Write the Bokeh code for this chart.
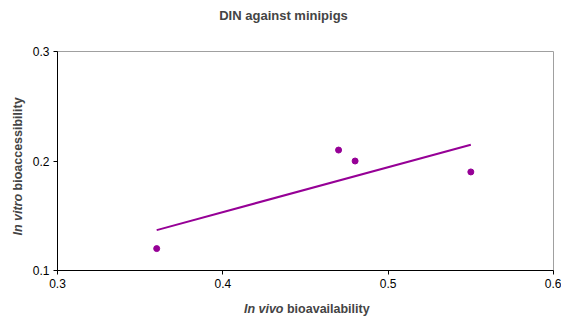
import numpy as np
from bokeh.plotting import figure
from bokeh.models import Label, FixedTicker, Range1d
from bokeh.embed import file_html
from bokeh.resources import INLINE

# data
in_vivo = [0.36, 0.47, 0.48, 0.55]
in_vitro = [0.12, 0.21, 0.20, 0.19]
x_ticks = [0.3, 0.4, 0.5, 0.6]
y_ticks = [0.1, 0.2, 0.3]
title_text = "DIN against minipigs"

FONT = "Liberation Sans"
PURPLE = "#960096"

p = figure(width=561, height=318, output_backend="svg", toolbar_location=None,
           x_range=Range1d(0.3, 0.6), y_range=Range1d(0.1, 0.3),
           min_border_left=57, min_border_right=8, min_border_top=51, min_border_bottom=48)
p.background_fill_color = "white"
p.border_fill_color = "white"
p.outline_line_color = "#a0a0a0"
p.xgrid.visible = False
p.ygrid.visible = False

for ax, ticks in ((p.xaxis, x_ticks), (p.yaxis, y_ticks)):
    ax.ticker = FixedTicker(ticks=ticks)
    ax.minor_tick_line_color = None
    ax.major_tick_in = 0
    ax.major_tick_out = 4
    ax.axis_line_color = "black"
    ax.major_tick_line_color = "black"
    ax.major_label_text_font = FONT
    ax.major_label_text_font_size = "12px"
    ax.major_label_text_color = "black"
p.xaxis.major_label_standoff = 4
p.yaxis.major_label_standoff = 4

# trendline (least-squares fit of the data)
slope, intercept = np.polyfit(in_vivo, in_vitro, 1)
xs = [min(in_vivo), max(in_vivo)]
p.line(xs, [slope * x + intercept for x in xs], line_color=PURPLE, line_width=2)
p.scatter(in_vivo, in_vitro, size=6, color=PURPLE)

# title
p.add_layout(Label(x=0.4367, y=0.3329, text=title_text, text_font=FONT,
                   text_font_size="13px", text_font_style="bold",
                   text_align="center", text_baseline="middle"), "above")
# x axis label
p.add_layout(Label(x=0.4388, y=0.0644, text="In vivo ", text_font=FONT,
                   text_font_size="12.5px", text_font_style="bold italic",
                   text_align="right", text_baseline="middle"), "below")
p.add_layout(Label(x=0.4388, y=0.0644, text="bioavailability", text_font=FONT,
                   text_font_size="12.5px", text_font_style="bold",
                   text_align="left", text_baseline="middle"), "below")
# y axis label
p.add_layout(Label(x=0.2764, y=0.1731, text="In vitro ", text_font=FONT,
                   text_font_size="12.5px", text_font_style="bold italic",
                   text_align="right", text_baseline="middle", angle=np.pi / 2), "left")
p.add_layout(Label(x=0.2764, y=0.1731, text="bioaccessibility", text_font=FONT,
                   text_font_size="12.5px", text_font_style="bold",
                   text_align="left", text_baseline="middle", angle=np.pi / 2), "left")

open("out.html", "w").write(file_html(p, INLINE))
